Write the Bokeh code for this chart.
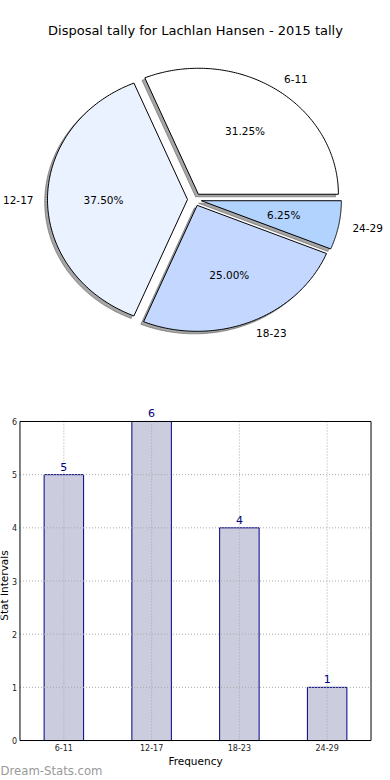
import numpy as np
from bokeh.plotting import figure
from bokeh.layouts import column
from bokeh.models import Range1d, Label, LabelSet, ColumnDataSource, FixedTicker, FactorRange
from bokeh.core.properties import value
from bokeh.embed import file_html
from bokeh.resources import INLINE

# ---------------- data ----------------
categories = ["6-11", "12-17", "18-23", "24-29"]
counts = [5, 6, 4, 1]
pie_colors = ["#ffffff", "#eaf1ff", "#c4d8ff", "#b3d3ff"]
title_text = "Disposal tally for Lachlan Hansen - 2015 tally"
y_ticks = [0, 1, 2, 3, 4, 5, 6]
x_label = "Frequency"
y_label = "Stat Intervals"
watermark = "Dream-Stats.com"

FONT = "DejaVu Sans"
W = 390
PIE_H = 390
BAR_H = 390

# ---------------- pie ----------------
pie = figure(width=W, height=PIE_H, output_backend="svg", toolbar_location=None,
             x_range=Range1d(-194 / 140, 196 / 140), y_range=Range1d(-191 / 126, 199 / 126),
             x_axis_location=None, y_axis_location=None,
             min_border=0, min_border_left=0, min_border_right=0,
             min_border_top=0, min_border_bottom=0)
pie.frame_align = False
pie.grid.visible = False
pie.outline_line_color = None

explode = 0.05
total = float(sum(counts))
fracs = [c / total for c in counts]
starts = np.cumsum([0.0] + fracs[:-1]) * 2 * np.pi
ends = np.cumsum(fracs) * 2 * np.pi

wx, wy, sx, sy = [], [], [], []
lab_x, lab_y, lab_align, pct_x, pct_y, pct_txt = [], [], [], [], [], []
for i, (a0, a1) in enumerate(zip(starts, ends)):
    mid = 0.5 * (a0 + a1)
    cx, cy = explode * np.cos(mid), explode * np.sin(mid)
    t = np.linspace(a0, a1, 120)
    xs = [cx] + list(cx + np.cos(t)) + [cx]
    ys = [cy] + list(cy + np.sin(t)) + [cy]
    wx.append(xs)
    wy.append(ys)
    sx.append([x - 0.02 for x in xs])
    sy.append([y - 0.02 for y in ys])
    lx = cx + 1.1 * np.cos(mid)
    ly = cy + 1.1 * np.sin(mid)
    lab_x.append(lx)
    lab_y.append(ly)
    lab_align.append("left" if lx > 0 else "right")
    pct_x.append(cx + 0.6 * np.cos(mid))
    pct_y.append(cy + 0.6 * np.sin(mid))
    pct_txt.append("%.2f%%" % (100 * fracs[i]))

pie.patches(sx, sy, fill_color="#4d4d4d", fill_alpha=0.5, line_color="#4d4d4d", line_alpha=0.5)
pie.patches(wx, wy, fill_color=pie_colors, line_color="black", line_width=1)

for i in range(len(categories)):
    pie.add_layout(Label(x=lab_x[i], y=lab_y[i], text=categories[i], text_align=lab_align[i],
                         text_baseline="middle", text_font=FONT, text_font_size="10.5px",
                         text_color="black"))
    pie.add_layout(Label(x=pct_x[i], y=pct_y[i], text=pct_txt[i], text_align="center",
                         text_baseline="middle", text_font=FONT, text_font_size="10.5px",
                         text_color="black"))

pie.add_layout(Label(x=0.007, y=1.341, text=title_text, text_align="center",
                     text_baseline="middle", text_font=FONT, text_font_size="13px",
                     text_color="black"))

# ---------------- bar ----------------
# the plot frame fills the whole canvas; axes are pinned at x=0 / y=0 of the data
src = ColumnDataSource(dict(cat=categories, count=counts, lab=[str(c) for c in counts]))
n = len(categories)

bar = figure(width=W, height=BAR_H, output_backend="svg", toolbar_location=None,
             x_range=FactorRange(*categories, range_padding=0.111),
             y_range=Range1d(-0.752, 6.583),
             min_border=0, min_border_left=0, min_border_right=0,
             min_border_top=0, min_border_bottom=0)
bar.frame_align = False
bar.grid.visible = False
bar.outline_line_color = None

bar.vbar(x="cat", top="count", width=0.45, source=src, fill_color="#ccccdf",
         line_color="#000080", line_width=1)

# dotted grid, drawn over the bars
bar.segment(x0=[0] * len(y_ticks), x1=[n] * len(y_ticks), y0=y_ticks, y1=y_ticks,
            line_color="#a8a8a8", line_dash="1 2", line_width=1)
bar.segment(x0=categories, x1=categories, y0=[y_ticks[0]] * n, y1=[y_ticks[-1]] * n,
            line_color="#a8a8a8", line_dash="1 2", line_width=1)
# axes box
bar.quad(left=[0], right=[n], bottom=[y_ticks[0]], top=[y_ticks[-1]], fill_color=None,
         line_color="black", line_width=1)

bar.add_layout(LabelSet(x="cat", y="count", text="lab", source=src, text_align="center",
                        text_baseline="bottom", y_offset=4, text_font=value(FONT),
                        text_font_size=value("11px"), text_color="#000080"))

bar.yaxis.ticker = FixedTicker(ticks=y_ticks)
bar.yaxis.fixed_location = 0
bar.xaxis.fixed_location = 0
for ax in (bar.xaxis[0], bar.yaxis[0]):
    ax.major_tick_in = 0
    ax.major_tick_out = 0
    ax.minor_tick_in = 0
    ax.minor_tick_out = 0
    ax.axis_line_color = None
    ax.major_label_text_font = FONT
    ax.major_label_text_font_size = "8px"
    ax.major_label_text_color = "#222222"
    ax.major_label_standoff = 3
    ax.axis_label_text_font = FONT
    ax.axis_label_text_font_style = "normal"
    ax.axis_label_text_font_size = "10.5px"
    ax.axis_label_text_color = "black"

bar.xaxis.axis_label = x_label
bar.xaxis.axis_label_standoff = 1
bar.yaxis.axis_label = y_label
bar.yaxis.axis_label_standoff = -2

bar.add_layout(Label(x=0, y=0, x_offset=-19.5, y_offset=-30, text=watermark,
                     text_align="left", text_baseline="middle", text_font=FONT,
                     text_font_size="11.7px", text_color="#999999"))

layout = column(pie, bar, spacing=0)
open("out.html", "w").write(file_html(layout, INLINE))
